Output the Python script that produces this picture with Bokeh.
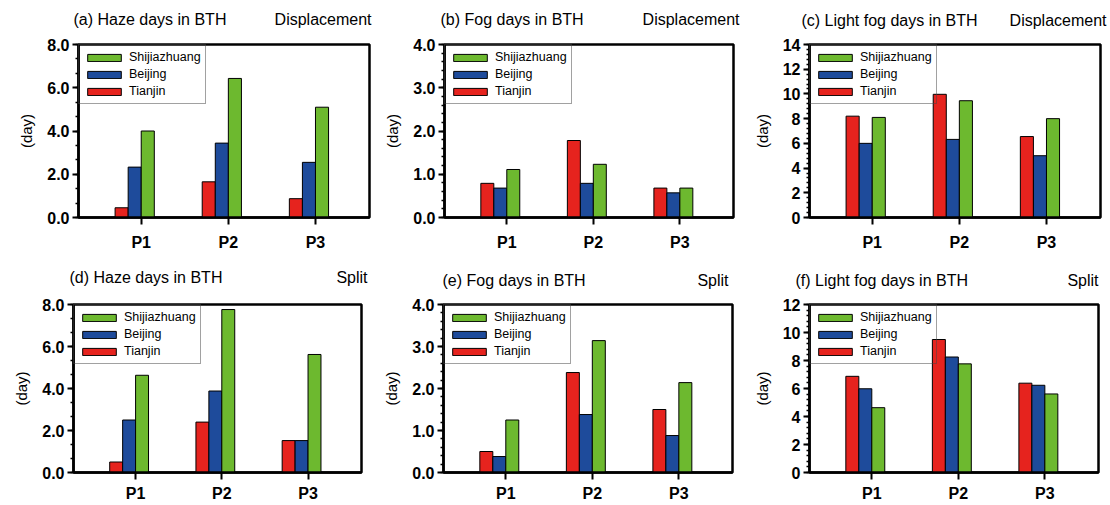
from bokeh.plotting import figure
from bokeh.layouts import column, row
from bokeh.models import (Legend, LegendItem, FixedTicker, SingleIntervalTicker,
                          NumeralTickFormatter, Range1d, ColumnDataSource)
from bokeh.core.properties import value
from bokeh.transform import dodge
from bokeh.embed import file_html
from bokeh.resources import INLINE

# ---------------- data ----------------
periods = ["P1", "P2", "P3"]
period_pos = [1, 2, 3]
cities = ["Shijiazhuang", "Beijing", "Tianjin"]

haze_disp_tianjin = [0.45, 1.65, 0.87]
haze_disp_beijing = [2.33, 3.44, 2.55]
haze_disp_shijiazhuang = [4.0, 6.43, 5.1]

fog_disp_tianjin = [0.79, 1.78, 0.68]
fog_disp_beijing = [0.68, 0.79, 0.57]
fog_disp_shijiazhuang = [1.11, 1.23, 0.68]

lfog_disp_tianjin = [8.2, 9.97, 6.55]
lfog_disp_beijing = [6.0, 6.32, 5.0]
lfog_disp_shijiazhuang = [8.1, 9.45, 8.0]

haze_split_tianjin = [0.5, 2.4, 1.52]
haze_split_beijing = [2.5, 3.88, 1.52]
haze_split_shijiazhuang = [4.63, 7.76, 5.62]

fog_split_tianjin = [0.5, 2.38, 1.5]
fog_split_beijing = [0.38, 1.38, 0.88]
fog_split_shijiazhuang = [1.25, 3.14, 2.14]

lfog_split_tianjin = [6.87, 9.5, 6.38]
lfog_split_beijing = [5.98, 8.25, 6.23]
lfog_split_shijiazhuang = [4.63, 7.76, 5.61]

top_titles = ["(a) Haze days in BTH", "(b) Fog days in BTH", "(c) Light fog days in BTH"]
bottom_titles = ["(d) Haze days in BTH", "(e) Fog days in BTH", "(f) Light fog days in BTH"]
top_kind = "Displacement"
bottom_kind = "Split"

# ---------------- style ----------------
RED = "#E6231E"
BLUE = "#1E4B9B"
GREEN = "#6DB92F"
FONT = "Liberation Sans"
X0, X1 = 0.28, 3.62
BAR_W = 0.15
TOTAL_W = 1108


def make_panel(fig_box, frame, ymax, major, n_minor, fmt, tj, bj, sj, xstand):
    fx, fy, fw, fh = fig_box
    fl, ft, fr, fb = frame
    p = figure(width=fw, height=fh, x_range=Range1d(X0, X1), y_range=Range1d(0, ymax),
               min_border_left=fl - fx, min_border_right=fx + fw - fr,
               min_border_top=ft - fy, min_border_bottom=fy + fh - fb,
               toolbar_location=None, output_backend="svg", tools="")
    p.xgrid.visible = False
    p.ygrid.visible = False
    p.background_fill_color = "white"
    p.border_fill_color = "white"
    p.outline_line_color = "black"
    p.outline_line_width = 2.5
    p.outline_line_alpha = 1

    src = ColumnDataSource(dict(x=period_pos, tj=tj, bj=bj, sj=sj))
    common = dict(width=BAR_W, source=src, line_color="black", line_width=1)
    r_tj = p.vbar(x=dodge("x", -1.5 * BAR_W, range=p.x_range), top="tj", fill_color=RED, **common)
    r_bj = p.vbar(x=dodge("x", -0.5 * BAR_W, range=p.x_range), top="bj", fill_color=BLUE, **common)
    r_sj = p.vbar(x=dodge("x", 0.5 * BAR_W, range=p.x_range), top="sj", fill_color=GREEN, **common)

    # x axis
    xa = p.xaxis[0]
    xa.ticker = FixedTicker(ticks=period_pos)
    xa.major_label_overrides = {pos: lab for pos, lab in zip(period_pos, periods)}
    xa.major_tick_out = 7
    xa.major_tick_in = 0
    xa.minor_tick_out = 0
    xa.minor_tick_in = 0
    xa.major_tick_line_width = 2
    xa.axis_line_width = 2.5
    xa.major_label_text_font = FONT
    xa.major_label_text_font_style = "bold"
    xa.major_label_text_font_size = "16px"
    xa.major_label_text_color = "black"
    xa.major_label_standoff = xstand

    # y axis
    ya = p.yaxis[0]
    ya.ticker = SingleIntervalTicker(interval=major, num_minor_ticks=n_minor)
    ya.formatter = NumeralTickFormatter(format=fmt)
    ya.major_tick_out = 6
    ya.major_tick_in = 0
    ya.minor_tick_out = 3
    ya.minor_tick_in = 0
    ya.major_tick_line_width = 2
    ya.minor_tick_line_width = 1.5
    ya.axis_line_width = 2.5
    ya.major_label_text_font = FONT
    ya.major_label_text_font_style = "bold"
    ya.major_label_text_font_size = "16px"
    ya.major_label_text_color = "black"
    ya.major_label_standoff = 3
    ya.axis_label = "(day)"
    ya.axis_label_text_font = FONT
    ya.axis_label_text_font_style = "normal"
    ya.axis_label_text_font_size = "15px"
    ya.axis_label_text_color = "black"
    ya.axis_label_standoff = 9

    legend = Legend(items=[LegendItem(label=cities[0], renderers=[r_sj]),
                           LegendItem(label=cities[1], renderers=[r_bj]),
                           LegendItem(label=cities[2], renderers=[r_tj])],
                    location="top_left", margin=0, padding=4, spacing=1,
                    glyph_width=42, glyph_height=9, label_height=16, label_standoff=4,
                    label_text_font=FONT, label_text_font_size="12.5px",
                    label_text_color="black",
                    border_line_color="#444444", border_line_width=1,
                    background_fill_alpha=0)
    p.add_layout(legend)
    return p


def make_header(height, lefts, rights, ys_left, ys_right, left_texts, right_texts):
    h = figure(width=TOTAL_W, height=height, x_range=Range1d(0, TOTAL_W),
               y_range=Range1d(height, 0), x_axis_location=None, y_axis_location=None,
               min_border_left=0, min_border_right=0, min_border_top=0, min_border_bottom=0,
               toolbar_location=None, output_backend="svg", tools="")
    h.xgrid.visible = False
    h.ygrid.visible = False
    h.outline_line_color = None
    h.background_fill_color = "white"
    h.border_fill_color = "white"
    h.text(x=lefts, y=ys_left, text=left_texts, text_align="left", text_baseline="middle",
           text_font=value(FONT), text_font_size=value("16px"), text_color="black")
    h.text(x=rights, y=ys_right, text=right_texts, text_align="right", text_baseline="middle",
           text_font=value(FONT), text_font_size=value("16px"), text_color="black")
    return h


# header rows (page pixel positions of the panel titles)
HT = 30
head_top = make_header(HT, [73, 440, 801], [371, 739, 1106], [19, 19, 20], [19, 19, 20],
                       top_titles, [top_kind] * 3)
HB = 37
head_bot = make_header(HB, [69, 442, 795], [367, 728, 1098], [24, 27, 27], [24, 27, 27],
                       bottom_titles, [bottom_kind] * 3)

# chart boxes (x0, y0, w, h) and frames (left, top, right, bottom) in page pixels
y_top = HT
h_top = 253 - HT
pa = make_panel((0, y_top, 380, h_top), (78, 44, 369, 217), 8, 2, 3, "0.0",
                haze_disp_tianjin, haze_disp_beijing, haze_disp_shijiazhuang, 9)
pb = make_panel((380, y_top, 370, h_top), (444, 44, 733, 217), 4, 1, 5, "0.0",
                fog_disp_tianjin, fog_disp_beijing, fog_disp_shijiazhuang, 9)
pc = make_panel((750, y_top, 358, h_top), (803, 44, 1100, 217), 14, 2, 5, "0",
                lfog_disp_tianjin, lfog_disp_beijing, lfog_disp_shijiazhuang, 9)

y_bot = 253 + HB
h_bot = 504 - y_bot
pd = make_panel((0, y_bot, 380, h_bot), (73, 300, 361, 473), 8, 2, 3, "0.0",
                haze_split_tianjin, haze_split_beijing, haze_split_shijiazhuang, 5)
pe = make_panel((380, y_bot, 370, h_bot), (438, 304, 732, 477), 4, 1, 5, "0.0",
                fog_split_tianjin, fog_split_beijing, fog_split_shijiazhuang, 5)
pf = make_panel((750, y_bot, 358, h_bot), (800, 303, 1098, 476), 12, 2, 5, "0",
                lfog_split_tianjin, lfog_split_beijing, lfog_split_shijiazhuang, 5)

layout = column(head_top, row(pa, pb, pc, spacing=0), head_bot, row(pd, pe, pf, spacing=0),
                spacing=0)

with open("out.html", "w") as f:
    f.write(file_html(layout, INLINE))
